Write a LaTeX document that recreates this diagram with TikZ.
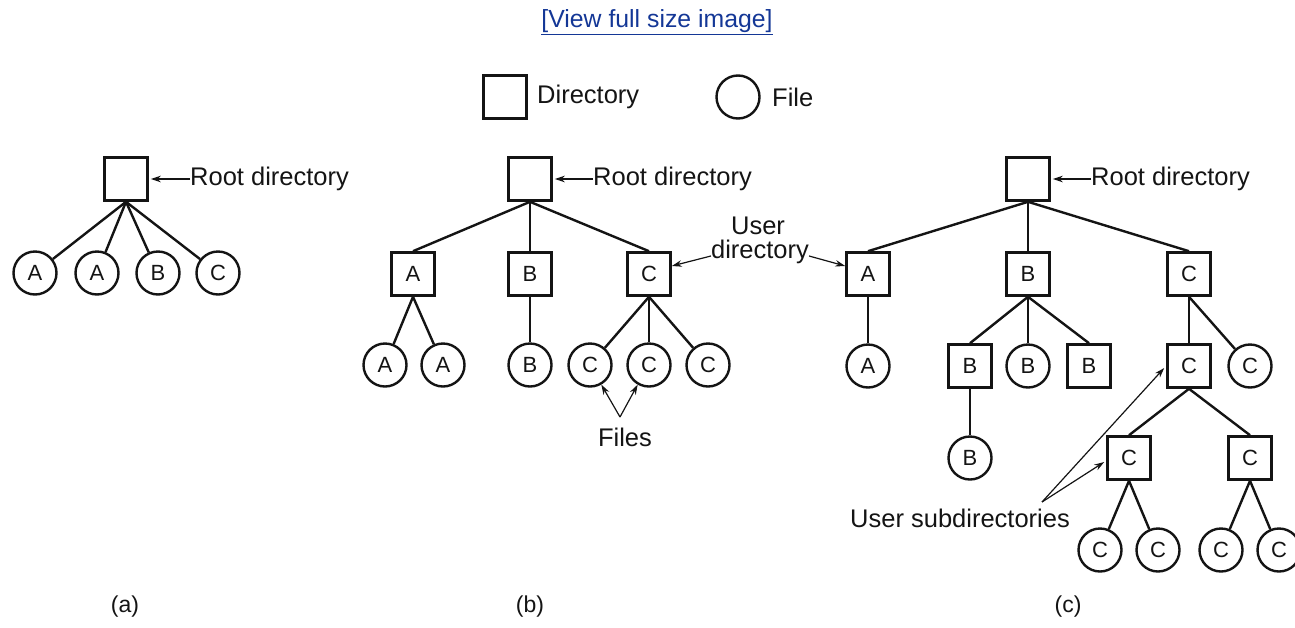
\documentclass[tikz,border=0pt]{standalone}
\usepackage{fontspec}
\setmainfont{Liberation Sans}
\usetikzlibrary{arrows.meta,calc}
\definecolor{linkblue}{RGB}{20,55,150}
\definecolor{ink}{RGB}{20,20,20}
\begin{document}
\begin{tikzpicture}[x=1pt,y=-1pt,
  every node/.style={text=ink},
  dirbox/.style={draw=ink, line width=2.6pt, minimum size=43pt, inner sep=0pt, font=\fontsize{22}{24}\selectfont},
  filebox/.style={draw=ink, circle, line width=2.4pt, minimum size=43pt, inner sep=0pt, font=\fontsize{22}{24}\selectfont},
  lbl/.style={font=\fontsize{25.5}{28}\selectfont, inner sep=0pt},
  edge/.style={draw=ink, line width=2.4pt},
  arr/.style={draw=ink, line width=1.2pt, -{Stealth[length=10pt,width=6.5pt]}},
  sublbl/.style={font=\fontsize{23}{26}\selectfont, inner sep=0pt}
]
\useasboundingbox (0,0) rectangle (1295,627);

% link
\node[lbl, text=linkblue, font=\fontsize{24.8}{28}\selectfont] (link) at (657,22) {\underline{[View full size image]}};

% legend
\node[dirbox] (legd) at (505,97) {};
\node[lbl, anchor=west] (legdt) at (537,97) {Directory};
\node[filebox] (legf) at (738,97) {};
\node[lbl, anchor=west] (legft) at (772,97) {File};

% ---------- (a)
\node[dirbox] (aR) at (126,179) {};
\node[lbl, anchor=west] (aRt) at (190,179) {Root directory};
\draw[arr] (aRt.west) -- ([xshift=2pt]aR.east);
\node[filebox] (a1) at (35,273) {A};
\node[filebox] (a2) at (97,273) {A};
\node[filebox] (a3) at (158,273) {B};
\node[filebox] (a4) at (218,273) {C};
\foreach \c in {a1,a2,a3,a4} \draw[edge] (aR.south) -- (\c);
\node[sublbl] (capa) at (125,607) {(a)};

% ---------- (b)
\node[dirbox] (bR) at (530,179) {};
\node[lbl, anchor=west] (bRt) at (593,179) {Root directory};
\draw[arr] (bRt.west) -- ([xshift=2pt]bR.east);
\node[dirbox] (bA) at (413,274) {A};
\node[dirbox] (bB) at (530,274) {B};
\node[dirbox] (bC) at (649,274) {C};
\foreach \c in {bA,bB,bC} \draw[edge] (bR.south) -- (\c.north);
\node[filebox] (ba1) at (385,365) {A};
\node[filebox] (ba2) at (443,365) {A};
\node[filebox] (bb1) at (530,365) {B};
\node[filebox] (bc1) at (590,365) {C};
\node[filebox] (bc2) at (649,365) {C};
\node[filebox] (bc3) at (708,365) {C};
\draw[edge] (bA.south) -- (ba1);
\draw[edge] (bA.south) -- (ba2);
\draw[edge] (bB.south) -- (bb1);
\draw[edge] (bC.south) -- (bc1);
\draw[edge] (bC.south) -- (bc2);
\draw[edge] (bC.south) -- (bc3);
\coordinate (fj) at (620,417);
\draw[arr] (fj) -- (bc1.-60);
\draw[arr] (fj) -- (bc2.-120);
\node[lbl] (files) at (625,437) {Files};
\node[sublbl] (capb) at (530,607) {(b)};

% user directory label
\node[lbl] (udU) at (758,226) {User};
\node[lbl] (udD) at (760,252) {directory};

% ---------- (c)
\node[dirbox] (cR) at (1028,179) {};
\node[lbl, anchor=west] (cRt) at (1091,179) {Root directory};
\draw[arr] (cRt.west) -- ([xshift=2pt]cR.east);
\node[dirbox] (cA) at (868,274) {A};
\node[dirbox] (cB) at (1028,274) {B};
\node[dirbox] (cC) at (1189,274) {C};
\foreach \c in {cA,cB,cC} \draw[edge] (cR.south) -- (\c.north);

\draw[arr] ([yshift=-4pt]udD.west) -- ([yshift=8pt]bC.east);
\draw[arr] ([yshift=-4pt]udD.east) -- ([yshift=8pt]cA.west);

\node[filebox] (ca1) at (868,366) {A};
\node[dirbox] (cb1) at (970,366) {B};
\node[filebox] (cb2) at (1028,366) {B};
\node[dirbox] (cb3) at (1089,366) {B};
\node[dirbox] (cc1) at (1189,366) {C};
\node[filebox] (cc2) at (1250,366) {C};
\draw[edge] (cA.south) -- (ca1);
\draw[edge] (cB.south) -- (cb1.north);
\draw[edge] (cB.south) -- (cb2);
\draw[edge] (cB.south) -- (cb3.north);
\draw[edge] (cC.south) -- (cc1.north);
\draw[edge] (cC.south) -- (cc2);

\node[filebox] (cb1f) at (970,458) {B};
\draw[edge] (cb1.south) -- (cb1f);
\node[dirbox] (cc1a) at (1129,458) {C};
\node[dirbox] (cc1b) at (1250,458) {C};
\draw[edge] (cc1.south) -- (cc1a.north);
\draw[edge] (cc1.south) -- (cc1b.north);

\node[filebox] (cf1) at (1100,550) {C};
\node[filebox] (cf2) at (1158,550) {C};
\node[filebox] (cf3) at (1221,550) {C};
\node[filebox] (cf4) at (1279,550) {C};
\draw[edge] (cc1a.south) -- (cf1);
\draw[edge] (cc1a.south) -- (cf2);
\draw[edge] (cc1b.south) -- (cf3);
\draw[edge] (cc1b.south) -- (cf4);

\coordinate (usj) at (1042,502);
\node[lbl] (ust) at (960,518) {User subdirectories};
\draw[arr] (usj) -- ([yshift=-4pt,xshift=-2pt]cc1a.west);
\draw[arr] (usj) -- ([yshift=-2pt,xshift=-2pt]cc1.west);

\node[sublbl] (capc) at (1068,607) {(c)};
\end{tikzpicture}
\end{document}
